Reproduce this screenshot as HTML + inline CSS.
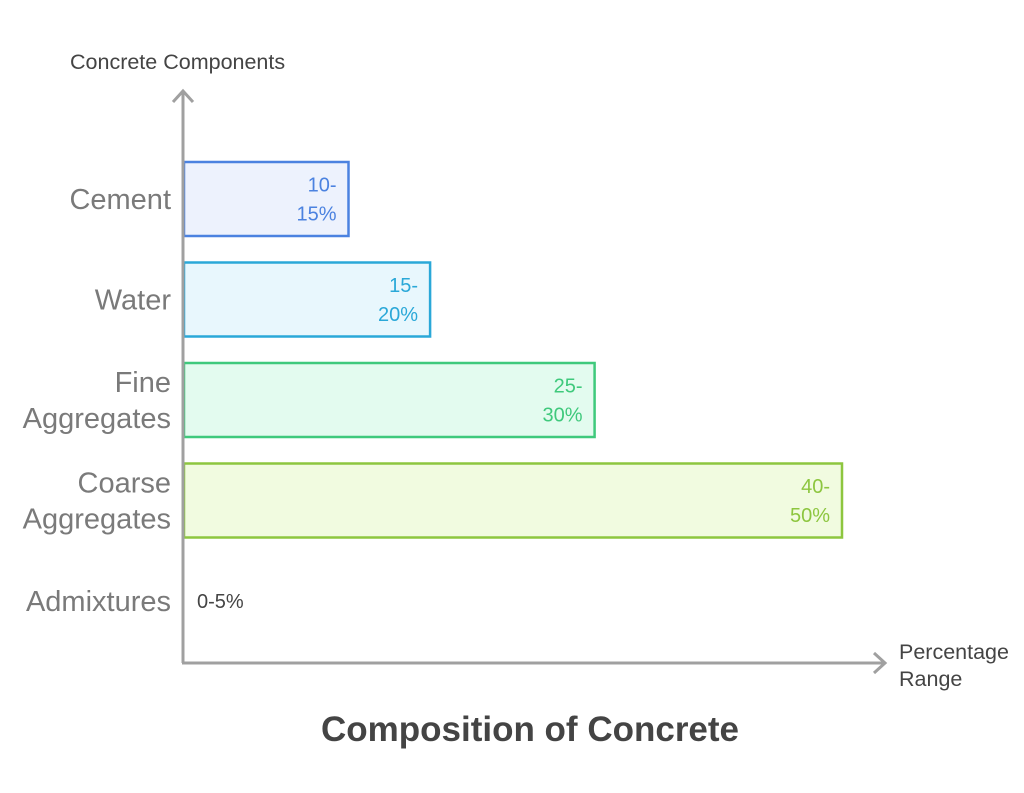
<!DOCTYPE html>
<html><head><meta charset="utf-8"><style>
body{margin:0;background:#fff;}
svg{display:block;font-family:"Liberation Sans",sans-serif;}
</style></head><body>
<svg id="chart" width="1024" height="793" viewBox="0 0 1024 793">
<text x="70" y="69" font-size="21.5" fill="#444">Concrete Components</text>
<text x="899" y="659" font-size="21.5" fill="#444">Percentage</text>
<text x="899" y="686" font-size="21.5" fill="#444">Range</text>
<text x="530" y="741" font-size="35" font-weight="bold" fill="#444" text-anchor="middle">Composition of Concrete</text>
<g id="bars"></g>
<line x1="183" y1="663" x2="183" y2="92" stroke="#a0a0a0" stroke-width="3"/>
<polyline points="173,102 183,91 193,102" fill="none" stroke="#a0a0a0" stroke-width="3"/>
<line x1="182" y1="663" x2="884" y2="663" stroke="#a0a0a0" stroke-width="3"/>
<polyline points="874,653 885,663 874,673" fill="none" stroke="#a0a0a0" stroke-width="3"/>
</svg>
<script>
const categories = [["Cement"],["Water"],["Fine","Aggregates"],["Coarse","Aggregates"],["Admixtures"]];
const valueLabels = [["10-","15%"],["15-","20%"],["25-","30%"],["40-","50%"],["0-5%"]];
const values = [12.5, 18.7, 31.2, 50, 0];
const strokes = ["#4b82e0","#2aa8d8","#3fc97c","#8dc63f","#444"];
const fills = ["#edf2fd","#e8f7fd","#e3fbef","#f1fbe0","none"];
const NS="http://www.w3.org/2000/svg";
const x0=184, xScale=v=>x0+v*(658/50);
const yTop=i=>162+i*100.5, bh=74;
const g=document.getElementById('bars');
function mk(t,a){const e=document.createElementNS(NS,t);for(const k in a)e.setAttribute(k,a[k]);return e;}
categories.forEach((c,i)=>{
  const y=yTop(i), x1=xScale(values[i]), cy=y+bh/2;
  if(values[i]>0){
    const r=mk('rect',{x:x0,y:y,width:x1-x0,height:bh,fill:fills[i],stroke:strokes[i],'stroke-width':2.5});
    
    
    g.appendChild(r);
  }
  const lines=c;
  lines.forEach((s,j)=>{
    const t=mk('text',{x:171,y:cy+10+(j-(lines.length-1)/2)*36,'font-size':29,fill:'#7a7a7a','text-anchor':'end'});
    t.textContent=s;
    
    
    g.appendChild(t);
  });
  const vl=valueLabels[i];
  vl.forEach((s,j)=>{
    const t=mk('text',{'font-size':20,fill:values[i]>0?strokes[i]:'#444'});
    if(values[i]>0){t.setAttribute('x',x1-12);t.setAttribute('text-anchor','end');}
    else t.setAttribute('x',197);
    t.setAttribute('y',cy+7+(j-(vl.length-1)/2)*29);
    t.textContent=s;
    
    
    g.appendChild(t);
  });
});
</script>
</body></html>
